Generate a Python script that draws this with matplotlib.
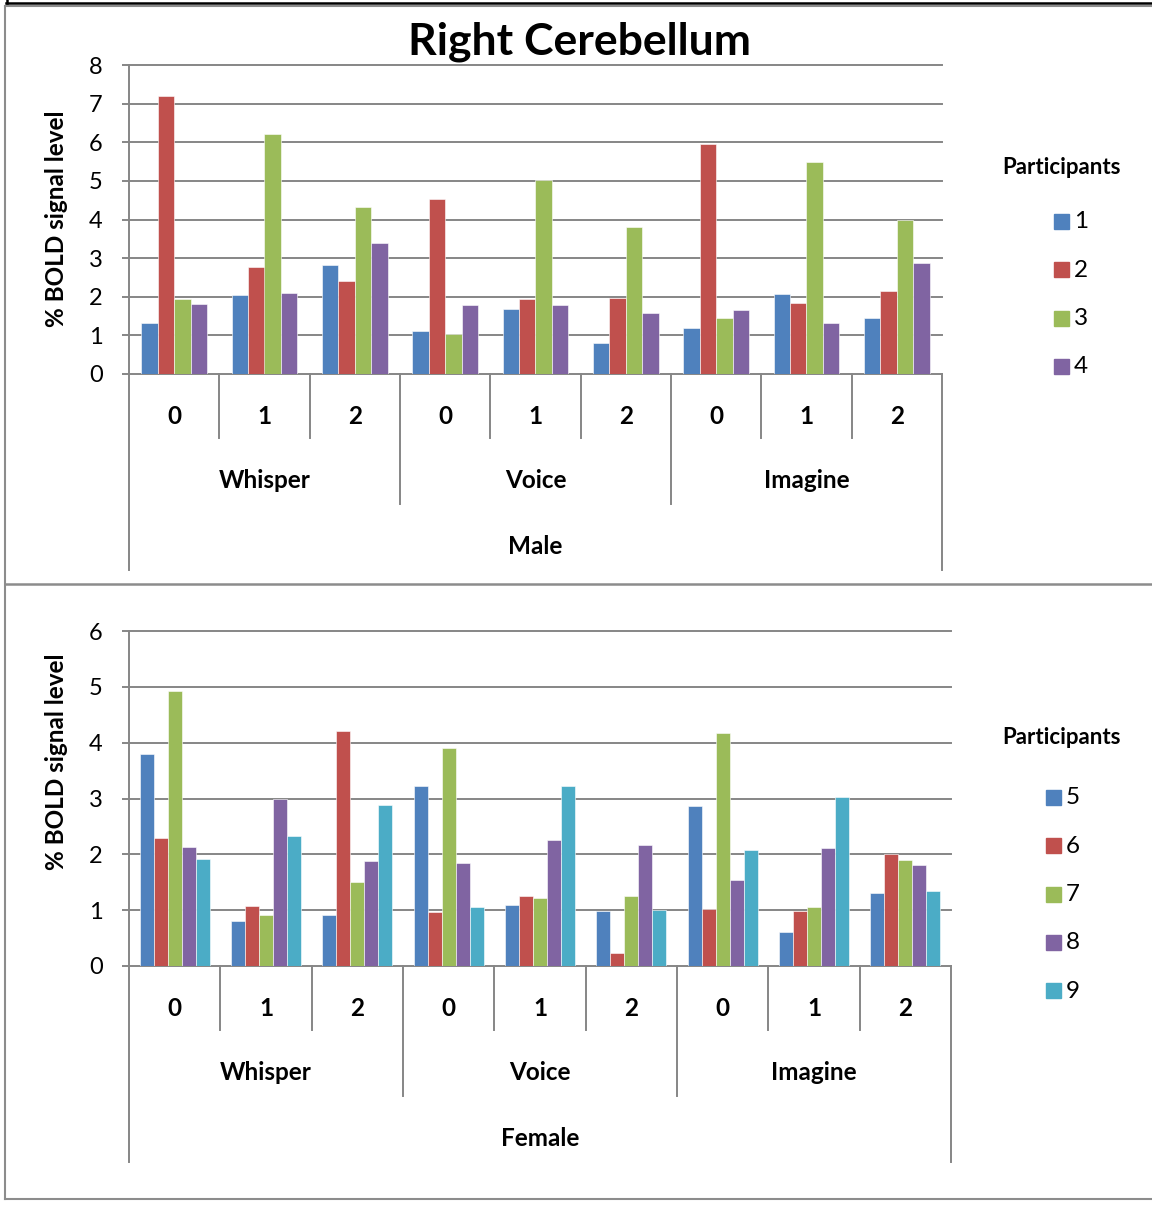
"""
Right cerebellum BOLD signal, grouped bars per participant, male and female panels.
"""

import matplotlib
matplotlib.use('Agg')
import matplotlib.pyplot as plt
from matplotlib.lines import Line2D
from matplotlib.patches import Rectangle
from matplotlib.transforms import blended_transform_factory

plt.rcParams['font.family'] = ['Lato', 'DejaVu Sans']

# Category levels
levels = ['0', '1', '2']
conditions = ['Whisper', 'Voice', 'Imagine']

# Male participants (one value per condition/level, Whisper 0 .. Imagine 2)
male_ids = ['1', '2', '3', '4']
male_p1 = [1.32, 2.05, 2.82, 1.11, 1.67, 0.79, 1.18, 2.06, 1.46]
male_p2 = [7.21, 2.77, 2.41, 4.53, 1.94, 1.97, 5.95, 1.84, 2.15]
male_p3 = [1.94, 6.21, 4.32, 1.03, 5.02, 3.81, 1.46, 5.50, 3.99]
male_p4 = [1.80, 2.11, 3.39, 1.79, 1.79, 1.57, 1.65, 1.31, 2.87]

# Female participants
female_ids = ['5', '6', '7', '8', '9']
female_p5 = [3.79, 0.80, 0.91, 3.23, 1.10, 0.99, 2.87, 0.61, 1.31]
female_p6 = [2.30, 1.07, 4.21, 0.97, 1.25, 0.24, 1.02, 0.99, 2.00]
female_p7 = [4.93, 0.91, 1.51, 3.90, 1.21, 1.26, 4.18, 1.05, 1.90]
female_p8 = [2.14, 3.00, 1.88, 1.84, 2.25, 2.17, 1.54, 2.12, 1.81]
female_p9 = [1.92, 2.32, 2.88, 1.06, 3.22, 1.01, 2.08, 3.02, 1.35]

colors = ['#4F81BD', '#C0504D', '#9BBB59', '#8064A2', '#4BACC6']
GRID = '#868686'
W, H = 1152, 1205


def fx(px):
    return px / W


def fy(py):
    return 1 - py / H


def draw_panel(fig, box, series, ids, ymax, sex, y_axis, legend_y, legend_x, legend_gap):
    left, top, right, bottom = box
    ax = fig.add_axes([fx(left), fy(bottom), fx(right - left), (bottom - top) / H])
    n = len(series)
    width = 1 / (n + 1.5)  # Excel style gap width of 150%
    ncat = len(conditions) * len(levels)
    for i, vals in enumerate(series):
        xs = [c - n * width / 2 + (i + 0.5) * width for c in range(ncat)]
        ax.bar(xs, vals, width=width, color=colors[i], edgecolor='white', linewidth=0.4, zorder=3)

    ax.set_xlim(-0.5, ncat - 0.5)
    ax.set_ylim(0, ymax)
    ax.set_yticks(range(ymax + 1))
    for v in range(1, ymax + 1):
        ax.axhline(v, color=GRID, lw=1.4, zorder=1, clip_on=False)
    ax.set_xticks([])
    for s in ['top', 'right']:
        ax.spines[s].set_visible(False)
    for s in ['left', 'bottom']:
        ax.spines[s].set_color(GRID)
        ax.spines[s].set_linewidth(1.4)
    ax.tick_params(axis='y', length=5, width=1.4, color=GRID, labelsize=17, pad=14)
    ax.set_ylabel('% BOLD signal level', fontsize=17.5, fontweight='bold')
    ax.yaxis.label.set_va('center')
    ax.yaxis.set_label_coords((57 - left) / (right - left),
                              0.5 + (y_axis - (top + bottom) / 2) / (top - bottom))

    # multi-level category axis below the plot
    tr = blended_transform_factory(ax.transData, fig.transFigure)
    for k in range(ncat + 1):
        x = k - 0.5
        if k in (0, ncat):
            end = bottom + 196
        elif k % 3 == 0:
            end = bottom + 130
        else:
            end = bottom + 64
        fig.add_artist(Line2D([x, x], [fy(bottom), fy(end)], transform=tr, color=GRID, lw=1.4))
    for k in range(ncat):
        fig.text(k, fy(bottom + 42), levels[k % 3], transform=tr, ha='center', va='center',
                 fontsize=17.5, fontweight='bold')
    for g, name in enumerate(conditions):
        fig.text(g * 3 + 1, fy(bottom + 107), name, transform=tr, ha='center', va='center',
                 fontsize=17.5, fontweight='bold')
    fig.text((ncat - 1) / 2, fy(bottom + 173), sex, transform=tr, ha='center', va='center',
             fontsize=17.5, fontweight='bold')

    # legend
    fig.text(fx(1061), fy(legend_y), 'Participants', ha='center', va='center', fontsize=16,
             fontweight='bold')
    for i, pid in enumerate(ids):
        yc = legend_y + legend_gap + 48.3 * i
        fig.add_artist(Rectangle((fx(legend_x - 7), fy(yc + 7)), 15 / W, 15 / H,
                                 transform=fig.transFigure, color=colors[i]))
        fig.text(fx(legend_x + 13), fy(yc), pid, ha='left', va='center', fontsize=17.5)
    return ax


fig = plt.figure(figsize=(W / 100, H / 100), dpi=100)

ax_top = draw_panel(fig, (129, 65, 942, 374), [male_p1, male_p2, male_p3, male_p4], male_ids, 8,
                    'Male', 219, 168, 1061, 54)
fig.text(fx(580), fy(42), 'Right Cerebellum', ha='center', va='center', fontsize=32,
         fontweight='bold')

ax_bot = draw_panel(fig, (129, 631, 951, 966), [female_p5, female_p6, female_p7, female_p8, female_p9],
                    female_ids, 6, 'Female', 762, 738, 1053, 60)

# panel frames
border = '#8C8C8C'
fig.add_artist(Line2D([fx(6), 1], [fy(3), fy(3)], color='black', lw=1.8))
fig.add_artist(Line2D([fx(7), fx(7)], [1, fy(3)], color='black', lw=1.8))
fig.add_artist(Line2D([fx(5), 1], [fy(6), fy(6)], color=border, lw=1.5))
fig.add_artist(Line2D([fx(5), fx(5)], [fy(6), fy(1199)], color=border, lw=1.5))
fig.add_artist(Line2D([fx(5), 1], [fy(584), fy(584)], color=border, lw=1.8))
fig.add_artist(Line2D([fx(5), 1], [fy(1199), fy(1199)], color=border, lw=1.5))

plt.savefig('out.png', dpi=100)
